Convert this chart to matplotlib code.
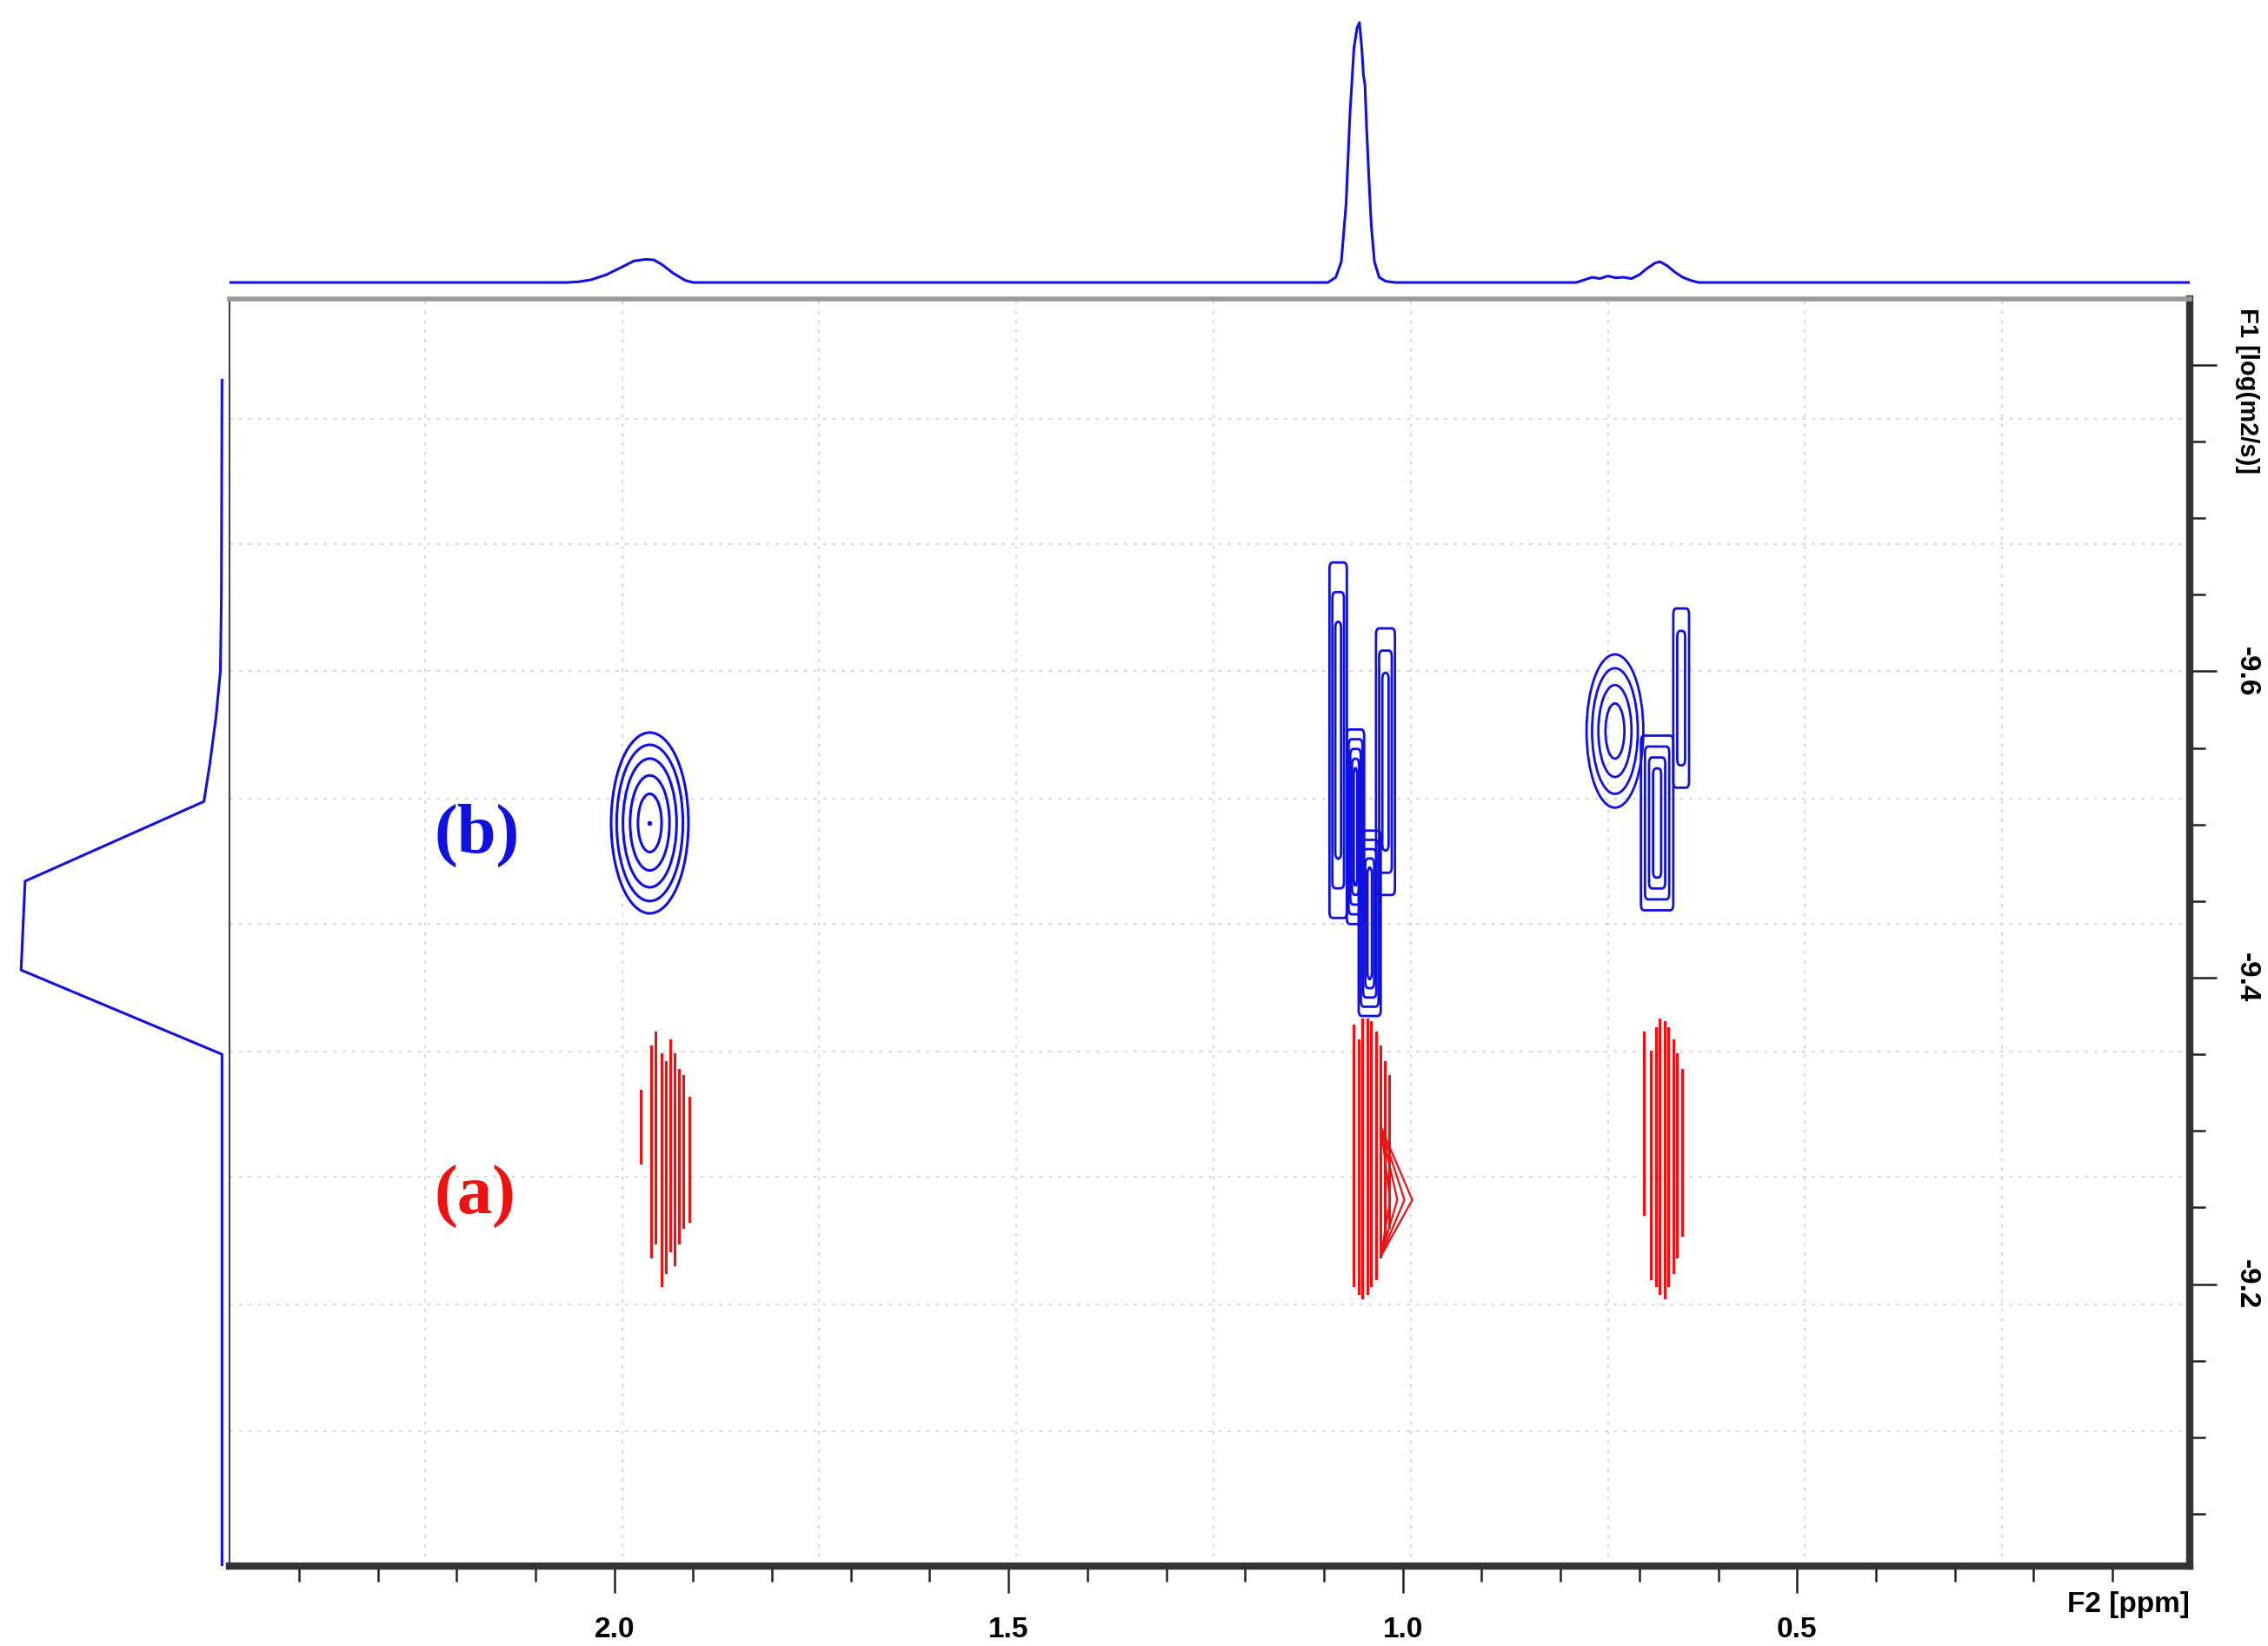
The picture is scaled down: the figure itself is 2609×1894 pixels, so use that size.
import matplotlib
matplotlib.use("Agg")
import matplotlib.pyplot as plt
from matplotlib.patches import Ellipse, FancyBboxPatch
from matplotlib.ticker import MultipleLocator, FixedLocator

# 1D projection on top (ppm, relative intensity)
top_ppm = [2.49, 2.06, 2.045, 2.03, 2.01, 1.99, 1.975, 1.96, 1.95, 1.94, 1.925, 1.91, 1.9,
           1.095, 1.085, 1.078, 1.072, 1.067, 1.062, 1.058, 1.055, 1.052, 1.050, 1.048,
           1.046, 1.043, 1.040, 1.036, 1.030, 1.022, 1.010,
           0.78, 0.77, 0.76, 0.75, 0.74, 0.73, 0.72, 0.71, 0.70, 0.69, 0.68, 0.674,
           0.665, 0.655, 0.645, 0.635, 0.625, 0.0]
top_int = [0.0, 0.0, 0.003, 0.01, 0.03, 0.06, 0.083, 0.089, 0.087, 0.07, 0.035, 0.008, 0.0,
           0.0, 0.02, 0.08, 0.3, 0.65, 0.9, 0.98, 1.0, 0.9, 0.8, 0.76,
           0.6, 0.4, 0.22, 0.08, 0.02, 0.005, 0.0,
           0.0, 0.01, 0.02, 0.015, 0.025, 0.018, 0.02, 0.015, 0.03, 0.055, 0.075, 0.08,
           0.065, 0.04, 0.02, 0.008, 0.0, 0.0]

# 1D projection on the left (log D, relative intensity)
left_logd = [-9.79, -9.65, -9.6, -9.57, -9.54, -9.515, -9.463, -9.405, -9.35, -9.016]
left_int = [0.0, 0.003, 0.008, 0.03, 0.06, 0.09, 0.98, 1.0, 0.0, 0.0]

# (a) red cross peaks: vertical contour segments (ppm, top, bottom)
red_x = [1.966, 1.953, 1.948, 1.940, 1.935, 1.929, 1.924, 1.918, 1.913, 1.905,
         1.062, 1.056, 1.051, 1.045, 1.040, 1.034, 1.028, 1.023, 1.017,
         0.694, 0.685, 0.679, 0.674, 0.668, 0.663, 0.657, 0.652, 0.646]
red_top = [-9.326, -9.355, -9.364, -9.350, -9.345, -9.359, -9.350, -9.340, -9.336, -9.322,
           -9.369, -9.359, -9.373, -9.373, -9.371, -9.364, -9.355, -9.345, -9.336,
           -9.364, -9.352, -9.367, -9.373, -9.371, -9.367, -9.359, -9.350, -9.340]
red_bot = [-9.279, -9.218, -9.227, -9.199, -9.208, -9.222, -9.213, -9.227, -9.237, -9.241,
           -9.199, -9.194, -9.191, -9.194, -9.199, -9.204, -9.218, -9.227, -9.237,
           -9.246, -9.204, -9.199, -9.194, -9.191, -9.199, -9.208, -9.218, -9.232]
# fan contours on the right side of the 1.04 ppm red peak
fan_tip_x = [1.016, 1.007, 0.998, 0.988]
fan_base_x = 1.028
fan_y = [-9.303, -9.255, -9.218]

# (b) blue peaks
ring_center = (1.955, -9.501)
ring_halfw = [0.049, 0.042, 0.034, 0.025, 0.015]
ring_halfh = [0.059, 0.051, 0.042, 0.031, 0.019]
blob_center = (0.731, -9.561)
blob_halfw = [0.036, 0.029, 0.021, 0.012]
blob_halfh = [0.050, 0.041, 0.030, 0.018]
# columns: x_left, x_right, y_top, y_bottom, nested count
col_xl = [1.093, 1.071, 1.056, 1.034, 0.698, 0.657]
col_xr = [1.071, 1.049, 1.028, 1.010, 0.657, 0.637]
col_yt = [-9.671, -9.562, -9.496, -9.628, -9.558, -9.641]
col_yb = [-9.439, -9.435, -9.375, -9.454, -9.444, -9.524]
col_n = [3, 5, 5, 3, 4, 2]

blue = "#1010e0"
red = "#ee1111"
W, H = 2609, 1894
fig = plt.figure(figsize=(W / 100, H / 100), dpi=100)

xl, xr = 2.488, 0.002
yb, yt = -9.016, -9.843
ax = fig.add_axes([264 / W, 1 - 1802 / H, (2519 - 264) / W, (1802 - 344) / H])
ax.set_xlim(xl, xr)
ax.set_ylim(yb, yt)

# grid
for g in [2.24, 1.99, 1.74, 1.49, 1.24, 0.99, 0.74, 0.49, 0.24]:
    ax.axvline(g, color="#d4d4d4", lw=1.3, ls=(0, (2, 4)), zorder=0)
for g in [-9.765, -9.683, -9.6, -9.517, -9.435, -9.352, -9.27, -9.187, -9.104]:
    ax.axhline(g, color="#d4d4d4", lw=1.3, ls=(0, (2, 4)), zorder=0)

# red segments
for x, t, b in zip(red_x, red_top, red_bot):
    ax.plot([x, x], [t, b], color=red, lw=2.2)
for tx in fan_tip_x:
    ax.plot([fan_base_x, tx, fan_base_x], fan_y, color=red, lw=1.6)

# blue rings
for hw, hh in zip(ring_halfw, ring_halfh):
    ax.add_patch(Ellipse(ring_center, 2 * hw, 2 * hh, fill=False, ec=blue, lw=2.2))
ax.plot(*ring_center, "o", color=blue, ms=3)
for hw, hh in zip(blob_halfw, blob_halfh):
    ax.add_patch(Ellipse(blob_center, 2 * hw, 2 * hh, fill=False, ec=blue, lw=2.0))
for x0, x1, y0, y1, n in zip(col_xl, col_xr, col_yt, col_yb, col_n):
    w = x0 - x1
    h = y1 - y0
    for k in range(n):
        f = k / (2.0 * n)
        ax.add_patch(FancyBboxPatch((x1 + w * f, y0 + h * f * 0.5), w * (1 - 2 * f), h * (1 - f),
                                    boxstyle="round,pad=0,rounding_size=0.004",
                                    fill=False, ec=blue, lw=2.0, mutation_aspect=1))

ax.text(2.174, -9.493, "(b)", color=blue, fontsize=58, fontweight="bold",
        family="Liberation Serif", ha="center", va="center")
ax.text(2.177, -9.257, "(a)", color=red, fontsize=58, fontweight="bold",
        family="Liberation Serif", ha="center", va="center")

# axes styling
ax.yaxis.tick_right()
ax.xaxis.set_major_locator(FixedLocator([2.0, 1.5, 1.0, 0.5]))
ax.xaxis.set_minor_locator(MultipleLocator(0.1))
ax.yaxis.set_major_locator(FixedLocator([-9.8, -9.6, -9.4, -9.2]))
ax.yaxis.set_minor_locator(MultipleLocator(0.05))
ax.tick_params(which="major", length=22, width=1.8, color="#222222", labelsize=24)
ax.tick_params(which="minor", length=13, width=1.8, color="#222222")
ax.set_xticklabels(["2.0", "1.5", "1.0", "0.5"], fontweight="bold", family="Liberation Sans")
ax.set_yticklabels(["", "-9.6", "-9.4", "-9.2"], rotation=-90, va="center",
                   fontweight="bold", family="Liberation Sans")
ax.tick_params(axis="y", pad=14)
ax.tick_params(axis="x", pad=20)
for side in ["bottom", "right"]:
    ax.spines[side].set_linewidth(6)
    ax.spines[side].set_color("#333333")
ax.spines["top"].set_linewidth(4)
ax.spines["top"].set_color("#999999")
ax.spines["left"].set_linewidth(1.5)
ax.spines["left"].set_color("#444444")
fig.text(2519 / W, 1 - 1846 / H, "F2 [ppm]", ha="right", va="center", fontsize=24,
         fontweight="bold", family="Liberation Sans")
fig.text(2585 / W, 1 - 450 / H, "F1 [log(m2/s)]", ha="center", va="center", fontsize=21,
         fontweight="bold", rotation=-90, family="Liberation Sans")

# top projection
axt = fig.add_axes([264 / W, 1 - 340 / H, (2519 - 264) / W, 320 / H])
axt.plot(top_ppm, top_int, color=blue, lw=2.2)
axt.set_xlim(xl, xr)
axt.set_ylim(-0.05, 1.02)
axt.axis("off")

# left projection
axl = fig.add_axes([15 / W, 1 - 1802 / H, 245 / W, (1802 - 344) / H])
axl.plot(left_int, left_logd, color=blue, lw=2.2)
axl.set_xlim(1.04, -0.02)
axl.set_ylim(yb, yt)
axl.axis("off")

fig.savefig("out.png", dpi=100)
